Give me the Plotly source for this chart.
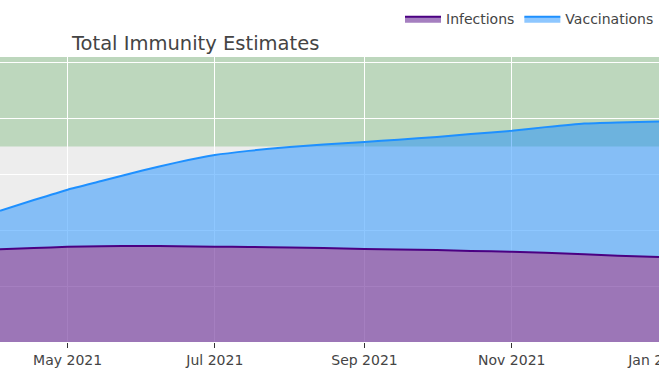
import plotly.graph_objects as go

dates = ["2021-04-03", "2021-04-17", "2021-05-01", "2021-05-15", "2021-06-01",
         "2021-06-15", "2021-07-01", "2021-07-15", "2021-08-01", "2021-08-15",
         "2021-09-01", "2021-09-15", "2021-10-01", "2021-10-15", "2021-11-01",
         "2021-11-15", "2021-12-01", "2021-12-15", "2022-01-01"]
infections = [33.2, 33.6, 34.1, 34.3, 34.4, 34.3, 34.1, 34.0, 33.8, 33.6,
              33.3, 33.1, 32.9, 32.6, 32.3, 31.9, 31.4, 30.9, 30.4]
vaccinations = [13.8, 17.2, 20.4, 23.3, 27.0, 29.9, 32.8, 34.4, 36.0, 37.1,
                38.3, 39.3, 40.5, 41.8, 43.3, 45.0, 46.8, 47.7, 48.5]

x_range = ["2021-04-03", "2022-01-01"]
y_range = [0, 102]
herd_band = [70, 102]

FONT = "DejaVu Sans"

fig = go.Figure()
fig.add_trace(go.Scatter(x=dates, y=infections, name="Infections", mode="lines",
                         stackgroup="one",
                         line=dict(color="indigo", width=2, shape="spline", smoothing=0.5),
                         fillcolor="rgba(75,0,130,0.5)"))
fig.add_trace(go.Scatter(x=dates, y=vaccinations, name="Vaccinations", mode="lines",
                         stackgroup="one",
                         line=dict(color="dodgerblue", width=2, shape="spline", smoothing=0.5),
                         fillcolor="rgba(30,144,255,0.5)"))

fig.add_shape(type="rect", xref="paper", x0=0, x1=1, yref="y",
              y0=herd_band[0], y1=herd_band[1], fillcolor="green", opacity=0.2,
              line=dict(width=0), layer="between")

fig.update_layout(
    width=659, height=384,
    margin=dict(l=0, r=0, t=57, b=42),
    paper_bgcolor="white", plot_bgcolor="rgb(237,237,237)",
    font=dict(family=FONT, size=14, color="#444"),
    title=dict(text="Total Immunity Estimates", x=72 / 659, xanchor="left",
               xref="container", y=1 - 43 / 384, yanchor="middle", yref="container",
               font=dict(family=FONT, size=19.5, color="#444")),
    legend=dict(orientation="h", x=1, xanchor="right", y=1.133, yanchor="middle",
                traceorder="normal", itemwidth=36,
                font=dict(family=FONT, size=14, color="#444"), bgcolor="rgba(0,0,0,0)"),
    showlegend=True,
)
fig.update_xaxes(type="date", range=x_range, dtick="M2", tick0="2021-01-01",
                 tickformat="%b %Y", showgrid=True, gridcolor="white", gridwidth=1,
                 ticks="outside", ticklen=5, tickcolor="#333", zeroline=False,
                 showline=False, ticklabeloverflow="allow", automargin=False,
                 tickfont=dict(family=FONT, size=14, color="#444"))
fig.update_yaxes(range=y_range, dtick=20, tick0=0, showgrid=True, gridcolor="white",
                 gridwidth=1, showticklabels=False, ticks="", zeroline=False,
                 showline=False, automargin=False)

fig.write_html("out.html", config={"displayModeBar": False},
               post_script="document.body.style.margin='0';document.body.style.overflow='hidden';")
